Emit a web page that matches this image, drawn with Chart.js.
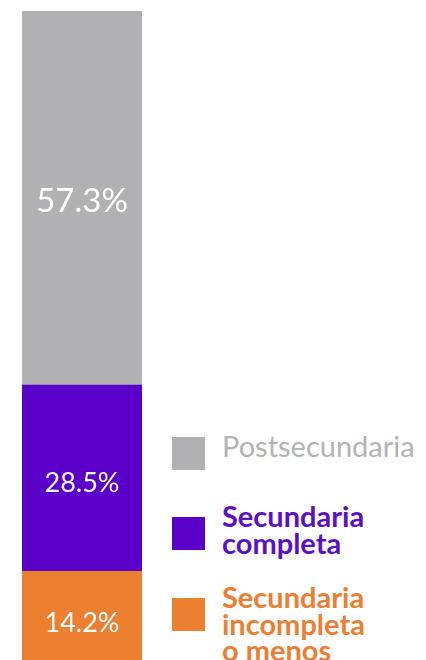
<!DOCTYPE html>
<html>
<head>
<meta charset="utf-8">
<script src="https://cdn.jsdelivr.net/npm/chart.js@4/dist/chart.umd.min.js"></script>
<style>
  html,body{margin:0;padding:0;background:#fff;width:426px;height:660px;overflow:hidden;font-family:Lato,"Open Sans",sans-serif;}
  #wrap{position:absolute;left:0;top:0;width:164px;height:664px;}
  #legend{position:absolute;left:172px;top:0;width:254px;height:660px;overflow:hidden;}
  .item{position:absolute;left:0;}
  .sw{position:absolute;left:0;width:33px;height:33px;}
  .lbl{position:absolute;left:50px;font-size:29px;line-height:26.5px;white-space:nowrap;}
</style>
</head>
<body>
<div id="wrap"><canvas id="c"></canvas></div>
<div id="legend"></div>
<script>
const categories = ["Nivel educativo"];
const seriesNames = ["Secundaria incompleta o menos", "Secundaria completa", "Postsecundaria"];
const legendLines = [["Secundaria", "incompleta", "o menos"], ["Secundaria", "completa"], ["Postsecundaria"]];
const values = [14.2, 28.5, 57.3];
const colors = ["#ed7f31", "#5b00c9", "#b1b1b3"];
const textColors = ["#ec7d31", "#5a0fc8", "#b3b3b5"];

const labelPlugin = {
  id: 'segLabels',
  afterDatasetsDraw(chart) {
    const ctx = chart.ctx;
    ctx.save();
    chart.data.datasets.forEach((ds, i) => {
      const meta = chart.getDatasetMeta(i);
      meta.data.forEach((bar, j) => {
        const v = ds.data[j];
        const big = v > 50;
        const size = big ? 33 : 27;
        ctx.font = size + 'px Lato, sans-serif';
        ctx.fillStyle = '#ffffff';
        ctx.textAlign = 'center';
        ctx.textBaseline = 'alphabetic';
        const y = (bar.y + bar.base) / 2 + 14;
        ctx.fillText(v.toFixed(1) + '%', bar.x, y);
      });
    });
    ctx.restore();
  }
};

new Chart(document.getElementById('c'), {
  type: 'bar',
  data: {
    labels: categories,
    datasets: seriesNames.map((n, i) => ({
      label: n,
      data: [values[i]],
      backgroundColor: colors[i],
      borderWidth: 0,
      barPercentage: 1,
      categoryPercentage: 1
    }))
  },
  options: {
    responsive: true,
    maintainAspectRatio: false,
    animation: false,
    layout: { padding: { left: 22, right: 22, top: 11, bottom: 0 } },
    plugins: { legend: { display: false }, tooltip: { enabled: false } },
    scales: {
      x: { stacked: true, display: false },
      y: { stacked: true, display: false, min: 0, max: 100 }
    }
  },
  plugins: [labelPlugin]
});

// HTML legend (top item first)
const legendTops = [598, 517, 437];
const lg = document.getElementById('legend');
[2, 1, 0].forEach(i => {
  const item = document.createElement('div');
  item.className = 'item';
  item.style.top = legendTops[i] + 'px';
  const sw = document.createElement('div');
  sw.className = 'sw';
  sw.style.background = colors[i];
  const lb = document.createElement('div');
  lb.className = 'lbl';
  lb.style.color = textColors[i];
  lb.style.fontWeight = i === 2 ? '400' : '700';
  lb.style.top = (i === 2 ? -4 : -14) + 'px';
  lb.innerHTML = legendLines[i].join('<br>');
  item.appendChild(sw);
  item.appendChild(lb);
  lg.appendChild(item);
});
</script>
</body>
</html>
